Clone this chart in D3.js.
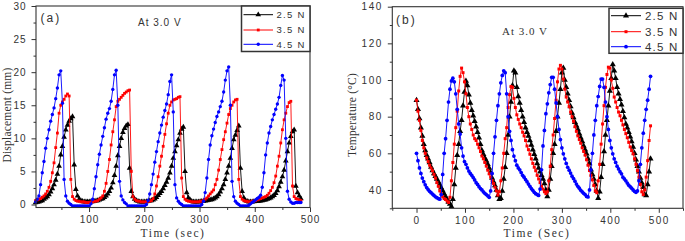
<!DOCTYPE html>
<html>
<head>
<meta charset="utf-8">
<script src="https://cdn.jsdelivr.net/npm/d3@7"></script>
<style>
  body { margin: 0; background: #fff; }
  text { fill: #333; }
</style>
</head>
<body>
<svg id="chart" width="685" height="241"></svg>
<script>
// ---- data: panel (a) displacement (mm), sampled about every 3 s ----
var dispTime = d3.range(159).map(function(i){ return 3.2 + 3.04 * i; });

var disp25 = [
  0.3, 0.35, 0.4, 0.5, 0.6, 0.8, 1.0, 1.2, 1.5, 1.9,
  2.4, 3.0, 3.7, 4.6, 5.8, 7.5, 8.8, 10.2, 11.3, 12.0,
  12.6, 13.0, 13.3, 6.0, 2.3, 1.3, 0.8, 0.6, 0.5, 0.4,
  0.4, 0.4, 0.4, 0.45, 0.45, 0.5, 0.55, 0.6, 0.7, 0.8,
  0.9, 1.1, 1.3, 1.6, 2.0, 2.5, 3.3, 4.4, 5.8, 7.4,
  8.8, 10.0, 10.9, 11.5, 11.9, 12.1, 5.5, 2.0, 1.2, 0.8,
  0.6, 0.5, 0.4, 0.4, 0.4, 0.4, 0.45, 0.5, 0.55, 0.6,
  0.7, 0.85, 1.1, 1.4, 1.7, 2.0, 2.4, 2.9, 3.4, 4.0,
  4.8, 5.8, 7.0, 8.0, 8.9, 9.8, 10.8, 11.4, 11.7, 5.0,
  1.8, 1.0, 0.7, 0.5, 0.4, 0.4, 0.4, 0.4, 0.45, 0.5,
  0.5, 0.55, 0.6, 0.65, 0.7, 0.75, 0.85, 1.0, 1.2, 1.5,
  1.9, 2.4, 3.0, 3.8, 4.8, 5.8, 7.0, 8.5, 9.8, 10.5,
  11.2, 11.9, 5.5, 2.0, 1.0, 0.6, 0.5, 0.4, 0.4, 0.4,
  0.45, 0.5, 0.5, 0.5, 0.55, 0.6, 0.65, 0.7, 0.8, 0.9,
  1.0, 1.2, 1.4, 1.7, 2.1, 2.7, 3.4, 4.2, 5.2, 6.6,
  8.0, 9.3, 10.3, 11.0, 11.3, 2.8, 1.8, 1.3, 0.9
];
var disp35 = [
  0.6, 0.7, 0.8, 0.9, 1.1, 1.3, 1.6, 2.0, 2.6, 3.5,
  4.8, 6.3, 8.6, 10.8, 13.8, 15.0, 15.5, 15.9, 16.4, 16.7,
  16.4, 3.8, 1.2, 0.8, 0.6, 0.5, 0.5, 0.4, 0.4, 0.4,
  0.3, 0.3, 0.3, 0.4, 0.4, 0.5, 0.5, 0.6, 0.8, 1.0,
  1.3, 2.0, 3.2, 5.0, 6.8, 9.0, 11.0, 12.8, 14.8, 15.6,
  15.9, 16.2, 16.5, 16.8, 17.0, 17.2, 17.3, 5.0, 1.2, 0.8,
  0.6, 0.5, 0.5, 0.4, 0.4, 0.4, 0.4, 0.5, 0.5, 0.6,
  0.9, 1.6, 2.8, 4.2, 5.8, 7.3, 8.8, 10.6, 12.2, 13.8,
  15.0, 15.5, 15.8, 15.9, 16.0, 16.2, 16.3, 4.0, 1.2, 0.8,
  0.6, 0.5, 0.5, 0.4, 0.4, 0.4, 0.4, 0.4, 0.5, 0.5,
  0.6, 0.8, 1.0, 1.3, 1.6, 1.9, 2.2, 3.0, 3.8, 5.2,
  6.8, 8.3, 9.8, 11.0, 12.3, 13.6, 14.5, 15.0, 15.5, 15.8,
  15.9, 3.8, 1.2, 0.8, 0.6, 0.5, 0.5, 0.4, 0.4, 0.5,
  0.5, 0.6, 0.7, 0.8, 0.9, 1.0, 1.1, 1.2, 1.4, 1.7,
  2.1, 2.6, 3.3, 4.3, 5.8, 7.3, 9.3, 11.3, 12.8, 13.8,
  14.8, 15.4, 15.6, 2.8, 1.2, 0.9, 0.8, 0.7, 0.6
];
var disp45 = [
  0.4, 0.8, 1.3, 3.0, 4.8, 6.5, 8.5, 10.0, 11.3, 12.6,
  13.6, 14.6, 16.0, 17.6, 19.6, 20.2, 15.3, 3.8, 1.3, 0.5,
  0.2, 0.0, -0.2, -0.2, -0.2, -0.2, -0.2, -0.2, -0.2, -0.2,
  -0.2, -0.2, -0.2, 0.1, 0.8, 2.4, 4.2, 6.0, 7.6, 9.0,
  10.3, 11.6, 12.9, 13.8, 14.5, 15.6, 17.4, 19.6, 20.3, 15.0,
  3.5, 1.3, 0.7, 0.3, 0.1, -0.2, -0.2, -0.2, -0.2, -0.2,
  -0.2, -0.2, -0.2, -0.2, -0.2, -0.2, 0.0, 0.6, 1.6, 3.0,
  4.6, 6.4, 8.0, 9.5, 10.8, 12.0, 13.2, 14.2, 15.2, 16.6,
  18.6, 19.6, 14.0, 3.0, 1.0, 0.5, 0.2, 0.0, -0.2, -0.2,
  -0.2, -0.2, -0.2, -0.2, -0.2, -0.2, -0.2, -0.2, -0.2, 0.0,
  0.5, 1.8, 4.0, 6.8, 9.0, 10.4, 11.4, 12.4, 13.3, 14.0,
  14.8, 15.6, 17.0, 18.8, 20.2, 20.8, 15.0, 3.5, 1.2, 0.5,
  0.2, 0.0, -0.2, -0.2, -0.2, -0.2, -0.2, -0.1, 0.1, 0.3,
  0.5, 0.7, 0.9, 1.1, 1.4, 2.6, 4.8, 7.5, 9.3, 10.8,
  11.8, 12.8, 13.6, 14.4, 15.2, 16.2, 18.0, 19.5, 18.8, 10.0,
  2.0, 0.8, 0.4, 0.2, 0.2, 0.3, 0.3, 0.3, 0.3
];

// ---- data: panel (b) temperature (deg C), every 3 s from 0 ----
var tempTime = d3.range(162).map(function(i){ return 3 * i; });

var temp25 = [
  89, 84, 79, 74, 69.5, 65, 61.5, 59, 57, 55,
  52.5, 50.6, 49, 47.5, 46, 44.5, 42.8, 41.2, 39.6, 38,
  36.3, 35, 33.5, 32.3, 31, 35, 43, 52, 59, 65,
  72, 78, 86, 93.5, 99.5, 97, 92, 87.5, 83.5, 80.5,
  77.5, 74.5, 71.5, 68.5, 65, 61.5, 59.5, 57.5, 56, 54,
  52, 49.5, 46.5, 44.5, 42.5, 40, 37, 35, 35.5, 39.5,
  46, 52.4, 60, 70, 80, 88, 97, 105, 104, 96,
  91, 87.5, 83.5, 80, 77, 74, 71.5, 69.5, 67, 64.5,
  62, 59.5, 57, 54.5, 52, 50, 48, 46, 43.5, 40,
  36.5, 40, 46, 53, 60, 65, 72, 80, 87.5, 95,
  104, 106.5, 100, 96, 92.5, 89, 85.5, 82, 79.5, 77,
  75, 73, 70.7, 68.5, 66.5, 64, 62, 59.7, 57, 54.5,
  51, 48.5, 46, 43, 39.5, 35.5, 39, 47, 54, 61,
  70, 78, 86, 94, 101, 108.5, 105, 101, 96, 92.5,
  89.5, 86.5, 83, 79.5, 76, 74, 71.5, 69, 66.5, 63.5,
  60, 56.5, 53, 50, 46.5, 44, 41.5, 37.5, 37, 43,
  50, 57
];
var temp35 = [
  89, 83, 78, 72.5, 67, 63, 60, 57.5, 55.5, 53.5,
  52, 50.5, 48.5, 46.5, 44, 42, 39.5, 38, 36.3, 35.3,
  34.8, 34, 33.2, 36, 45, 55, 65, 74, 83, 94,
  102, 106.5, 104, 99, 92.5, 85, 80, 76, 73, 70,
  68, 67, 65, 63, 61, 58.5, 57, 55, 53, 50.8,
  48.8, 47, 45.2, 43.5, 41.5, 39.5, 37.2, 39, 45, 52,
  60, 68, 74, 85, 92, 96.5, 96, 90, 85, 81,
  78.5, 76, 74, 71.5, 69.5, 67, 64, 62, 59.5, 57,
  54.5, 52.4, 50.5, 48, 46, 44, 42, 40.5, 39, 38,
  39, 45, 53, 62, 70, 79, 89, 99, 106, 108,
  106, 100.5, 95, 90.7, 88, 85.5, 82.5, 80, 77.5, 74.5,
  72, 69.5, 67.5, 65.5, 63, 61, 59, 56.5, 53.5, 50.6,
  48, 45.5, 42.5, 39.5, 38.5, 45, 54, 65, 76, 86,
  96, 103, 107, 106.5, 100, 95.5, 90.7, 88, 85, 82.5,
  80.5, 78, 75.5, 73, 70.7, 68.5, 66, 63.5, 61.5, 59.7,
  57, 54, 50.6, 47, 43, 39, 37.5, 40, 47, 56,
  67, 75
];
var temp45 = [
  60, 56, 52, 49, 46.5, 44.5, 42.8, 41.3, 40.2, 39.3,
  38.5, 37.8, 37.0, 36.3, 35.8, 35.3, 35.0, 37.5, 48.5, 60,
  68, 78, 88, 95, 99.5, 101, 99, 92.5, 84, 76,
  70.5, 63, 58.5, 55.5, 54, 52, 50.3, 49, 48, 46.8,
  45.5, 44, 43, 41.8, 40.8, 40, 39, 38.2, 37.5, 36.8,
  36, 39.5, 49, 60, 69, 78, 86, 92.5, 98.5, 102.5,
  105, 104, 92.5, 80, 72, 67, 62, 58.5, 56, 53.5,
  52, 51, 49.5, 48, 47, 45.7, 44.5, 43.2, 42, 40.8,
  39.8, 38.7, 38, 37.5, 37, 40.5, 51, 64, 72.5, 81.6,
  87, 93, 97.5, 101.5, 101.5, 95, 87.5, 80, 73, 67.5,
  63, 59.7, 57, 54.5, 52.4, 50.8, 49.2, 47.5, 46.2, 44.8,
  43.2, 42, 41, 39.8, 39, 38.2, 37.5, 36.5, 36.2, 40,
  51, 60, 70, 78, 86, 91, 96.5, 100.5, 100.5, 96,
  88, 80, 73, 67, 63, 59.7, 57, 55, 53, 51.5,
  50, 48.8, 47, 46, 45, 43.8, 42.6, 41.8, 41, 40,
  39.3, 38.7, 39.5, 45, 54, 63, 71, 78, 84, 89,
  95, 102
];

var legendNames = ["2.5 N", "3.5 N", "4.5 N"];
var colors = ["#000000", "#ff0000", "#0000ff"];
var symbols = [d3.symbolTriangle, d3.symbolSquare, d3.symbolCircle];

var svg = d3.select("#chart");

function drawPanel(p) {
  var x = d3.scaleLinear().domain(p.xDomain).range(p.xRange);
  var y = d3.scaleLinear().domain(p.yDomain).range(p.yRange);
  var g = svg.append("g");

  var left = p.xRange[0], right = p.xRange[1], top = p.yRange[1], bottom = p.yRange[0];

  // x axis (major + minor)
  g.append("g")
    .attr("transform", "translate(0," + bottom + ")")
    .call(d3.axisBottom(x).tickValues(p.xMinor).tickSize(2.5).tickFormat(""))
    .call(function(a){ a.select(".domain").remove(); });
  var xa = g.append("g")
    .attr("transform", "translate(0," + bottom + ")")
    .call(d3.axisBottom(x).tickValues(p.xTicks).tickSize(4.5).tickPadding(4).tickFormat(d3.format("d")));
  xa.select(".domain").remove();
  xa.selectAll("line").style("stroke", "#333");
  xa.selectAll("text").style("font-family", "'Liberation Sans', Arial, sans-serif")
    .style("font-size", "10px").style("letter-spacing", p.tickSpacing).style("fill", "#333");

  // y axis (major + minor)
  g.append("g")
    .attr("transform", "translate(" + left + ",0)")
    .call(d3.axisLeft(y).tickValues(p.yMinor).tickSize(2.5).tickFormat(""))
    .call(function(a){ a.select(".domain").remove(); });
  var ya = g.append("g")
    .attr("transform", "translate(" + left + ",0)")
    .call(d3.axisLeft(y).tickValues(p.yTicks).tickSize(4.5).tickPadding(p.yPad).tickFormat(d3.format("d")));
  ya.select(".domain").remove();
  ya.selectAll("line").style("stroke", "#333");
  ya.selectAll("text").style("font-family", "'Liberation Sans', Arial, sans-serif")
    .style("font-size", "10px").style("letter-spacing", p.tickSpacing).style("fill", "#333");
  g.selectAll("line").style("stroke", "#333");

  // series
  p.series.forEach(function(s, k) {
    var pts = p.time.map(function(t, i){ return [t, s[i]]; });
    g.append("path")
      .attr("d", d3.line().x(function(d){ return x(d[0]); }).y(function(d){ return y(d[1]); })(pts))
      .style("fill", "none").style("stroke", colors[k]).style("stroke-width", 0.9);
    g.selectAll(null)
      .data(pts)
      .enter()
      .append("path")
      .attr("transform", function(d){ return "translate(" + x(d[0]) + "," + y(d[1]) + ")"; })
      .attr("d", d3.symbol().type(symbols[k]).size(p.markSize[k]))
      .style("fill", colors[k]);
  });

  // frame
  g.append("rect")
    .attr("x", left).attr("y", top)
    .attr("width", right - left).attr("height", bottom - top)
    .style("fill", "none").style("stroke", "#333").style("stroke-width", 1.1);

  // legend
  var L = p.legend;
  g.append("rect")
    .attr("x", L.x0).attr("y", L.y0)
    .attr("width", L.x1 - L.x0).attr("height", L.y1 - L.y0)
    .style("fill", "#fff").style("stroke", "#333").style("stroke-width", 1.5);
  legendNames.forEach(function(name, k) {
    var yy = L.rows[k];
    g.append("line")
      .attr("x1", L.lx0).attr("x2", L.lx1).attr("y1", yy).attr("y2", yy)
      .style("stroke", colors[k]).style("stroke-width", 1);
    g.append("path")
      .attr("transform", "translate(" + ((L.lx0 + L.lx1) / 2) + "," + yy + ")")
      .attr("d", d3.symbol().type(symbols[k]).size(p.markSize[k]))
      .style("fill", colors[k]);
    g.append("text")
      .attr("x", L.tx).attr("y", yy + L.fs * 0.36)
      .style("font-family", "'Liberation Sans', Arial, sans-serif")
      .style("font-size", L.fs + "px").style("letter-spacing", L.ls)
      .text(name);
  });

  // labels
  g.append("text").attr("x", p.tag[0]).attr("y", p.tag[1])
    .style("font-family", "'Liberation Sans', Arial, sans-serif")
    .style("font-size", "12px").style("letter-spacing", "2px")
    .text(p.tagText);
  g.append("text").attr("x", p.note[0]).attr("y", p.note[1])
    .style("font-family", p.noteFont)
    .style("font-size", p.noteSize).style("letter-spacing", "1px")
    .text("At 3.0 V");
  g.append("text")
    .attr("transform", "translate(" + p.yTitle[0] + "," + p.yTitle[1] + ") rotate(-90)")
    .attr("text-anchor", "middle")
    .style("font-family", "'Liberation Serif', 'Times New Roman', serif")
    .style("font-size", "11.5px").style("letter-spacing", "0.2px")
    .text(p.yTitleText);
  g.append("text")
    .attr("x", p.xTitle[0]).attr("y", p.xTitle[1])
    .attr("text-anchor", "middle")
    .style("font-family", "'Liberation Serif', 'Times New Roman', serif")
    .style("font-size", "11.5px").style("letter-spacing", "1.6px")
    .text(p.xTitleText);
}

// panel (a)
drawPanel({
  xDomain: [4, 500], xRange: [36, 310],
  yDomain: [-0.45, 30], yRange: [207.5, 6],
  xTicks: [100, 200, 300, 400, 500],
  xMinor: [50, 150, 250, 350, 450],
  yTicks: [0, 5, 10, 15, 20, 25, 30],
  yMinor: [2.5, 7.5, 12.5, 17.5, 22.5, 27.5],
  yPad: 5, tickSpacing: "1px",
  time: dispTime,
  series: [disp25, disp35, disp45],
  markSize: [14, 8, 9],
  legend: { x0: 241.5, x1: 310, y0: 6, y1: 51.5, rows: [14.7, 30, 44.3],
            lx0: 243.5, lx1: 273, tx: 276.5, fs: 9.5, ls: "1.3px" },
  tag: [40.5, 22], tagText: "(a)",
  note: [138, 26], noteFont: "'Liberation Sans', Arial, sans-serif", noteSize: "10px",
  yTitle: [11, 115], yTitleText: "Displacement (mm)",
  xTitle: [173, 237], xTitleText: "Time (sec)"
});

// panel (b)
drawPanel({
  xDomain: [-50, 550], xRange: [392.3, 683],
  yDomain: [30, 140], yRange: [208.3, 6.7],
  xTicks: [0, 100, 200, 300, 400, 500],
  xMinor: [-50, 50, 150, 250, 350, 450, 550],
  yTicks: [40, 60, 80, 100, 120, 140],
  yMinor: [30, 50, 70, 90, 110, 130],
  yPad: 5, tickSpacing: "1.5px",
  time: tempTime,
  series: [temp25, temp35, temp45],
  markSize: [16, 9, 11],
  legend: { x0: 609, x1: 683, y0: 8.3, y1: 53.3, rows: [15.7, 31.7, 46.7],
            lx0: 611, lx1: 641, tx: 645, fs: 11.5, ls: "1.2px" },
  tag: [396, 24], tagText: "(b)",
  note: [502, 35], noteFont: "'Liberation Serif', 'Times New Roman', serif", noteSize: "11px",
  yTitle: [356, 115], yTitleText: "Temperature (°C)",
  xTitle: [537, 237], xTitleText: "Time (Sec)"
});
</script>
</body>
</html>
